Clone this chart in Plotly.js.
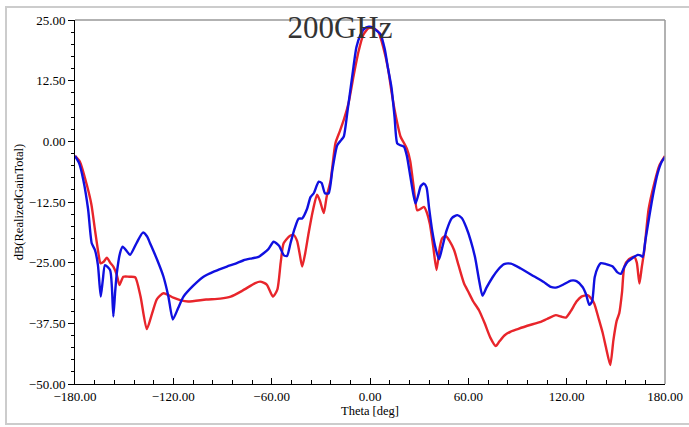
<!DOCTYPE html>
<html>
<head>
<meta charset="utf-8">
<script src="https://cdn.plot.ly/plotly-3.0.1.min.js"></script>
<style>html,body{margin:0;padding:0;background:#fff;}</style>
</head>
<body>
<div id="chart" style="width:689px;height:427px;"></div>
<script>
const redTheta = [-180,-177,-173,-170,-167.8,-165.5,-164.5,-162.5,-160.6,-158.5,-156.6,-154.5,-152.9,-150.5,-147,-143.3,-140,-136.2,-133,-130,-126,-120,-115.8,-111,-100,-91.4,-85,-78,-70,-67,-63,-59.2,-56.5,-54.5,-52.7,-49,-46.6,-44.5,-43,-41.4,-39.5,-37.5,-35,-32.3,-30.5,-28.2,-26.5,-24,-21.1,-18.5,-16,-13,-10,-7,-4,-1,0.3,2,5,8,11,13,15,16.8,18.6,20.5,22.5,24.5,26.5,28.8,30.5,32.9,34.5,36.5,38.5,40.6,42.5,44,46.2,48.5,51.3,54,57.4,60,63,66.5,70,73.5,76.7,79,82,85.9,90,96,104.2,108,113.4,116.5,119.5,122.5,126,129,132.7,134.5,136.8,139.5,142,144,146.6,148.5,150.5,152.1,153.8,155.2,158,161.3,162.8,164.4,165.8,167.4,170,173.5,176.5,180];
const redDB = [-3,-4.2,-8.7,-13,-18.3,-23.5,-25.1,-24.8,-24,-25,-25.8,-27.5,-29.6,-27.9,-27.9,-28,-32,-38.7,-35.5,-32.5,-31.3,-32.2,-32.7,-33,-32.6,-32.4,-32,-30.8,-29.2,-28.9,-29.5,-32,-30.5,-25,-21,-19.5,-19.3,-20.5,-23,-25.8,-23,-19,-14.5,-11,-12.3,-14.8,-11.5,-8,-0.4,2,4.4,8,13.5,18.5,22,23.3,23.4,23.3,22.6,19.5,15,10.5,6.5,3.5,1,-0.2,-1.5,-4,-9,-14.2,-14,-13.5,-14.5,-17,-21.5,-26.5,-22,-20,-19.5,-20.5,-22.4,-25.5,-29.3,-31,-33,-34.8,-37.5,-40.5,-42.2,-41.2,-40,-39.2,-38.7,-38,-37.2,-36.6,-35.8,-36.1,-36.3,-35,-33,-32,-31.7,-32.2,-33.4,-36.5,-39.5,-42.5,-46.1,-41,-37,-35.4,-31,-25.8,-24.3,-23.8,-25,-29.3,-26,-22.4,-14,-8.6,-5,-3];

const blueTheta = [-180,-177.5,-174.9,-172,-169.8,-167.8,-166,-164.3,-163,-161.7,-158.6,-157.5,-156.6,-155.5,-154.5,-152.5,-150.9,-148.5,-146.4,-142.5,-138.6,-136,-134.2,-130,-126,-123,-120.3,-117,-113.8,-108,-101.6,-95,-87.3,-82,-77.1,-72,-68,-62,-58.8,-55.5,-52.5,-50.6,-48.5,-46,-43.5,-41.4,-38.5,-36.3,-34.3,-32.6,-31.3,-29.5,-27.5,-25.2,-23,-20,-17.5,-16,-13.7,-11,-8.3,-6,-3.5,-0.7,1.5,4,6.4,9,11,13.1,15,16.6,18.5,20.7,22.5,24.5,26.5,27.8,29.5,31,32.9,34.5,36,38,40,42.1,44,46.7,50,53.3,56,58.7,61.5,64.1,66.5,68.6,71,74.8,78,81.8,86,92,100,106,110.3,114,118,122.6,126,129.7,131.8,133.8,135.5,137.1,139,140.9,144,148.1,151,153.1,155,157.2,160,163.3,165,166.4,168,170.4,173,175.5,178,180];
const blueDB = [-3,-4.5,-8,-14,-21,-22.4,-25.5,-32,-28.5,-25.5,-26.5,-30,-36.1,-31,-27.2,-23,-21.7,-22.6,-23.4,-21,-18.8,-19.6,-21,-24.3,-27.9,-32,-36.7,-34.3,-32,-29.8,-27.9,-26.8,-25.8,-25.2,-24.5,-24.1,-23.8,-22.2,-20.7,-21.5,-23.5,-23.6,-21,-18,-15.9,-15.9,-14,-11.5,-10.7,-9.2,-8.3,-8.6,-10.7,-10.7,-6,-0.8,0.3,1,6.3,13,19.4,21.8,23.2,23.6,23.5,22.8,22.1,19,15,11.1,5,-0.4,-0.8,-1.1,-3,-7,-11,-12.8,-11,-9.2,-8.7,-9.5,-13.6,-18.5,-22,-24.3,-22,-18.4,-15.8,-15.2,-15.8,-17.7,-20.5,-23.9,-28.5,-31.8,-30.2,-28,-26.5,-25.3,-25.2,-26.2,-27.8,-29,-30,-30.1,-29.5,-28.7,-28.8,-30,-31.5,-33.7,-33,-28,-26,-25.1,-25.3,-25.8,-27,-27.3,-26,-24.8,-24.1,-23.4,-23.5,-23.8,-20.5,-15.5,-10.5,-6.6,-4.2,-3.2];

const xTickVals = [-180,-120,-60,0,60,120,180];
const yTickVals = [-50,-37.5,-25,-12.5,0,12.5,25];
const titleText = "200GHz";
const xTitle = "Theta [deg]";
const yTitle = "dB(RealizedGainTotal)";

const serif = "Liberation Serif, Times New Roman, serif";

const traces = [
  {x: redTheta, y: redDB, type: 'scatter', mode: 'lines', line: {color: '#e8252b', width: 2.4, shape: 'spline', smoothing: 0.6}, hoverinfo: 'skip'},
  {x: blueTheta, y: blueDB, type: 'scatter', mode: 'lines', line: {color: '#1010e0', width: 2.4, shape: 'spline', smoothing: 0.6}, hoverinfo: 'skip'}
];

const layout = {
  width: 689, height: 427,
  margin: {l: 75, r: 24, t: 20, b: 43},
  paper_bgcolor: '#ffffff', plot_bgcolor: '#ffffff',
  showlegend: false,
  title: {text: titleText, font: {family: serif, size: 31, color: '#333333'}, x: 340/689, xref: 'container', xanchor: 'center', y: 1 - 27/427, yref: 'container', yanchor: 'middle'},
  xaxis: {
    range: [-180, 180], tickvals: xTickVals, tickformat: '.2f',
    showgrid: false, zeroline: false, showline: true, linecolor: '#000', linewidth: 1,
    ticks: 'inside', ticklen: 6, tickcolor: '#000',
    minor: {dtick: 12, tick0: -180, ticks: 'inside', ticklen: 4, tickcolor: '#000', showgrid: false},
    tickfont: {family: serif, size: 13, color: '#000'},
    title: {text: xTitle, font: {family: serif, size: 12.5, color: '#000'}, standoff: 3}
  },
  yaxis: {
    range: [-50, 25], tickvals: yTickVals, tickformat: '.2f',
    showgrid: false, zeroline: false, showline: true, linecolor: '#000', linewidth: 1,
    ticks: 'outside', ticklen: 6, tickcolor: '#000',
    minor: {dtick: 2.5, tick0: 0, ticks: 'outside', ticklen: 3, tickcolor: '#000', showgrid: false},
    tickfont: {family: serif, size: 13, color: '#000'},
    title: {text: yTitle, font: {family: serif, size: 12.5, color: '#000'}, standoff: 2}
  },
  shapes: [
    {type: 'line', xref: 'paper', yref: 'paper', x0: 0, x1: 1, y0: 1, y1: 1, line: {color: '#999999', width: 1.5}},
    {type: 'line', xref: 'paper', yref: 'paper', x0: 1, x1: 1, y0: 0, y1: 1, line: {color: '#999999', width: 1.5}},
    {type: 'rect', xref: 'paper', yref: 'paper', x0: (6-75)/590, x1: (690-75)/590, y0: (384-424)/364, y1: (384-7)/364, line: {color: '#cccccc', width: 2}, layer: 'below'}
  ]
};

Plotly.newPlot('chart', traces, layout, {displayModeBar: false, staticPlot: true});
</script>
</body>
</html>
